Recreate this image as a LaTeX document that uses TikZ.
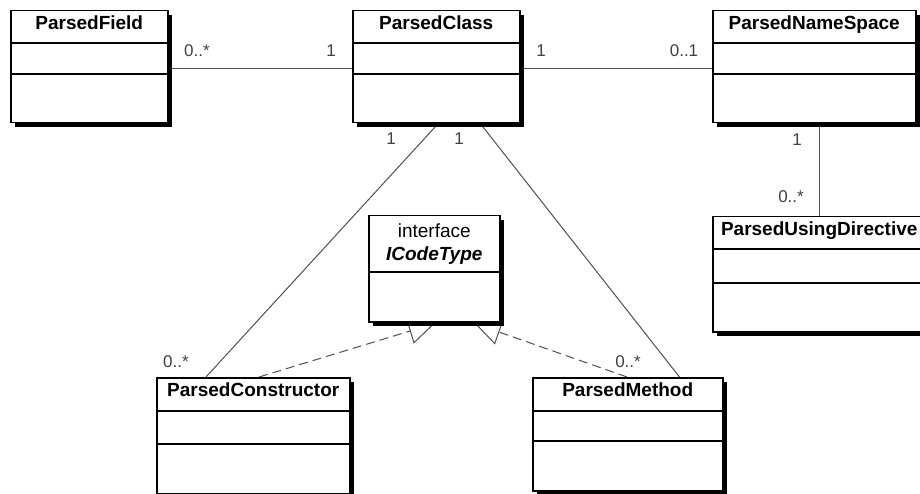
\documentclass[tikz,border=0pt]{standalone}
\usepackage{fontspec}
\setmainfont{Liberation Sans}
\usetikzlibrary{arrows.meta,calc,backgrounds}

\definecolor{linegray}{HTML}{505050}
\definecolor{labelgray}{HTML}{404040}

\tikzset{
  classbox/.style={draw=black, line width=1.5pt, fill=white, inner sep=0pt, anchor=north west},
  shadowbox/.style={fill=black},
  divider/.style={draw=black, line width=1.5pt},
  classtitle/.style={font=\bfseries\fontsize{19}{22}\selectfont, anchor=base, inner sep=0pt},
  stereo/.style={font=\fontsize{19}{22}\selectfont, anchor=base, inner sep=0pt},
  ifacetitle/.style={font=\bfseries\itshape\fontsize{19}{22}\selectfont, anchor=base, inner sep=0pt},
  mult/.style={font=\fontsize{17}{20}\selectfont, text=labelgray, anchor=base, inner sep=0pt},
  assoc/.style={draw=linegray, line width=1pt},
  realize/.style={draw=linegray, line width=1pt, dash pattern=on 9pt off 5pt,
    -{Triangle[open, length=26pt, width=26pt]}},
}

% class box: name, left, top, right, bottom, first divider, second divider, title
\newcommand\umlclass[8]{%
  \pgfmathsetmacro\boxw{#4-#2}%
  \pgfmathsetmacro\boxh{#5-#3}%
  \fill[shadowbox] (#2+5,#3+5) rectangle (#4+5,#5+5);
  \node[classbox, minimum width=\boxw pt, minimum height=\boxh pt] (#1) at (#2,#3) {};
  \draw[divider] (#2,#6) -- (#4,#6);
  \draw[divider] (#2,#7) -- (#4,#7);
  \node[classtitle] (#1-title) at ($(#1.north)+(0,19.5)$) {#8};
}

\begin{document}
\begin{tikzpicture}[x=1pt, y=-1pt]
  \useasboundingbox (0,0) rectangle (920,494);
  \clip (0,0) rectangle (920,494);

  % classes
  \umlclass{field}{10}{10}{167}{122}{43}{74}{ParsedField}
  \umlclass{class}{352}{10}{519}{122}{43}{74}{ParsedClass}
  \umlclass{ns}{712}{10}{915}{122}{43}{74}{ParsedNameSpace}
  \umlclass{using}{712}{216}{925}{331}{249}{283}{ParsedUsingDirective}
  \umlclass{ctor}{156}{377}{349}{493}{411}{444}{ParsedConstructor}
  \umlclass{method}{532}{377}{722}{490}{411}{441}{ParsedMethod}

  % interface
  \fill[shadowbox] (368+5,215+5) rectangle (499+5,321+5);
  \node[classbox, minimum width=131pt, minimum height=106pt] (icode) at (368,215) {};
  \draw[divider] (368,272) -- (499,272);
  \node[stereo] (icode-stereo) at ($(icode.north)+(0,22)$) {interface};
  \node[ifacetitle] (icode-title) at ($(icode.north)+(0,45)$) {ICodeType};

  % connectors, behind the boxes
  \begin{pgfonlayer}{background}
    \fill[white] (0,0) rectangle (920,494);
    \draw[assoc] ($(field.east)+(0,2)$) -- ($(class.west)+(0,2)$);
    \draw[assoc] ($(class.east)+(0,2)$) -- ($(ns.west)+(0,2)$);
    \draw[assoc] (ns.south -| using.north) -- (using.north);
    \draw[assoc] ($(class.south)+(2,0)$) -- ($(ctor.north west)+(50,0)$);
    \draw[assoc] ($(class.south)+(44,0)$) -- ($(method.north east)+(-44,0)$);
    \coordinate (tipL) at ($(icode.south)+(0.5,1)$);
    \coordinate (tipR) at ($(icode.south)+(40.5,1)$);
    \draw[realize] ($(ctor.north west)+(103,0)$) -- (tipL);
    \draw[realize] ($(method.north west)+(95,0)$) -- (tipR);
  \end{pgfonlayer}

  % multiplicities
  \node[mult] (m1) at (197,57) {0..*};
  \node[mult] (m2) at (331,57) {1};
  \node[mult] (m3) at (541,57) {1};
  \node[mult] (m4) at (684,57) {0..1};
  \node[mult] (m5) at (797,146) {1};
  \node[mult] (m6) at (791,203) {0..*};
  \node[mult] (m7) at (391,145) {1};
  \node[mult] (m8) at (459,145) {1};
  \node[mult] (m9) at (176,367) {0..*};
  \node[mult] (m10) at (628,367) {0..*};
\end{tikzpicture}
\end{document}
